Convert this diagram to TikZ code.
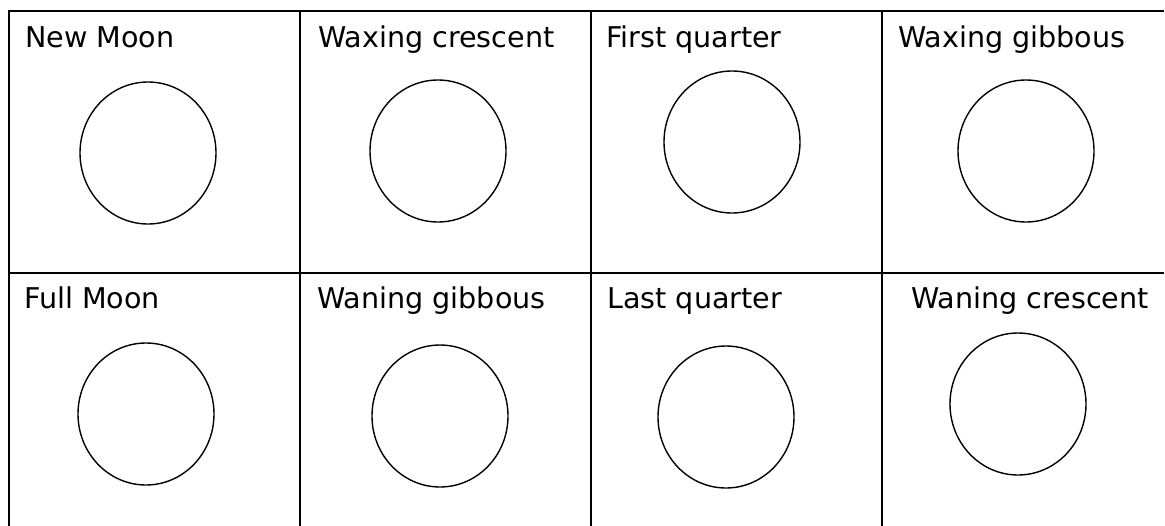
\documentclass[tikz,border=0pt]{standalone}
\usepackage{fontspec}
\setmainfont{DejaVu Sans}
\usetikzlibrary{shapes.geometric}
\begin{document}
\begin{tikzpicture}[x=1pt,y=-1pt,
  grid/.style={line width=2pt,black},
  moon/.style={draw,ellipse,line width=1.4pt,inner sep=0pt,minimum width=136pt,minimum height=142pt},
  lbl/.style={anchor=base west,inner sep=0pt,font=\fontsize{28.6}{32}\selectfont}]
\useasboundingbox (0,0) rectangle (1165,525);
% grid
\draw[grid] (8,11) -- (1164,11);
\draw[grid] (8,273) -- (1164,273);
\foreach \x in {9,300,591,882} \draw[grid] (\x,11) -- (\x,526);
% labels
\node[lbl] (t1) at (25,47) {New Moon};
\node[lbl] (t2) at (318,47) {Waxing crescent};
\node[lbl] (t3) at (606,47) {First quarter};
\node[lbl] (t4) at (898,47) {Waxing gibbous};
\node[lbl] (t5) at (24,308) {Full Moon};
\node[lbl] (t6) at (317,308) {Waning gibbous};
\node[lbl] (t7) at (607,308) {Last quarter};
\node[lbl] (t8) at (911,308) {Waning crescent};
% moons
\node[moon] (m1) at (148,153) {};
\node[moon] (m2) at (438,151) {};
\node[moon] (m3) at (732,142) {};
\node[moon] (m4) at (1026,151) {};
\node[moon] (m5) at (146,414) {};
\node[moon] (m6) at (440,416) {};
\node[moon] (m7) at (726,417) {};
\node[moon] (m8) at (1018,404) {};
\end{tikzpicture}
\end{document}
